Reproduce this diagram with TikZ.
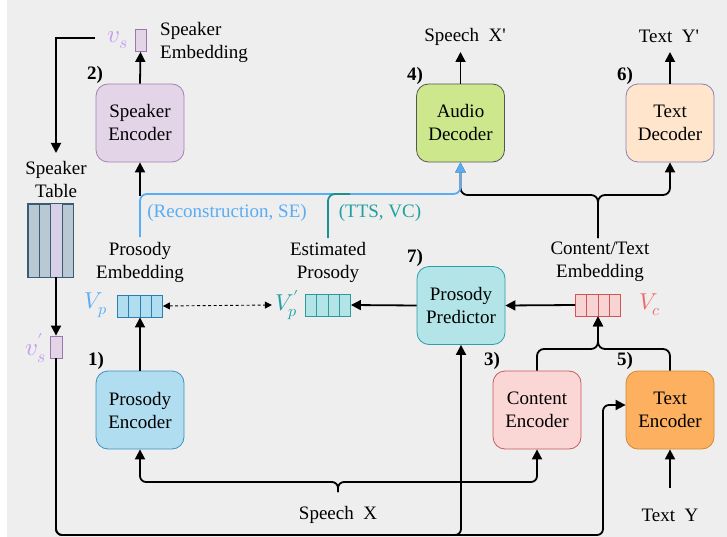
\documentclass[tikz,border=0pt]{standalone}
\usepackage{fontspec}
\usepackage{unicode-math}
\setmainfont{Liberation Serif}
\setmathfont{Latin Modern Math}
\usetikzlibrary{arrows.meta,calc}
\definecolor{bg}{HTML}{EEEEEE}
\definecolor{spkfill}{HTML}{E4D4E8}\definecolor{spkdraw}{HTML}{A67FB5}
\definecolor{prosfill}{HTML}{B0DDF0}\definecolor{prosdraw}{HTML}{3E90C2}
\definecolor{audfill}{HTML}{CDE88C}\definecolor{auddraw}{HTML}{555555}
\definecolor{tdfill}{HTML}{FFE5CC}\definecolor{tddraw}{HTML}{8A80B0}
\definecolor{predfill}{HTML}{B2E4E8}\definecolor{preddraw}{HTML}{2F9EA8}
\definecolor{cefill}{HTML}{FAD7D5}\definecolor{cedraw}{HTML}{C85A5A}
\definecolor{tefill}{HTML}{FDB05F}\definecolor{tedraw}{HTML}{D08A30}
\definecolor{vpdraw}{HTML}{2A7FB0}
\definecolor{vppdraw}{HTML}{2A9A9A}
\definecolor{vcfill}{HTML}{F8D3D3}\definecolor{vcdraw}{HTML}{D05555}
\definecolor{tblgray}{HTML}{B9C9D3}\definecolor{tbllav}{HTML}{D8D0E6}\definecolor{tbldraw}{HTML}{3B5B73}
\definecolor{vsdraw}{HTML}{9A78AA}\definecolor{vscol}{HTML}{C49CF0}
\definecolor{blueline}{HTML}{5AACF5}
\definecolor{tealline}{HTML}{1A9090}\definecolor{tealtext}{HTML}{20A0A0}
\definecolor{vccol}{HTML}{F06A6A}
\begin{document}
\begin{tikzpicture}[x=1pt,y=-1pt,
  box/.style={draw, line width=0.8pt, rounded corners=12pt, minimum width=88pt, minimum height=78pt, align=center, inner sep=2pt, font=\fontsize{19}{23}\selectfont},
  arr/.style={line width=1.8pt, -{Triangle[length=10pt,width=10pt]}},
  lbl/.style={align=center, inner sep=1pt, font=\fontsize{19}{23}\selectfont},
  num/.style={inner sep=0pt, font=\fontsize{19}{19}\selectfont\bfseries},
  vec/.style={draw, line width=0.9pt, minimum width=45pt, minimum height=22pt, inner sep=0pt},
  mlbl/.style={inner sep=0pt, font=\fontsize{23}{23}\selectfont},
  slbl/.style={inner sep=0pt, font=\fontsize{25}{25}\selectfont, text=vscol},
  sbox/.style={draw=vsdraw, fill=spkfill, line width=0.8pt, minimum width=11pt, minimum height=22pt, inner sep=0pt},
]
\fill[white] (0,0) rectangle (727,537);
\fill[bg] (7,0) rectangle (727,537);
\useasboundingbox (0,0) rectangle (727,537);

% boxes
\node[box, fill=spkfill, draw=spkdraw] (spkenc) at (140,123) {Speaker\\Encoder};
\node[box, fill=prosfill, draw=prosdraw] (prosenc) at (140,410) {Prosody\\Encoder};
\node[box, fill=audfill, draw=auddraw] (auddec) at (460.5,123) {Audio\\Decoder};
\node[box, fill=tdfill, draw=tddraw] (txtdec) at (670,123) {Text\\Decoder};
\node[box, fill=predfill, draw=preddraw] (pred) at (461,305.5) {Prosody\\Predictor};
\node[box, fill=cefill, draw=cedraw] (contenc) at (537,410) {Content\\Encoder};
\node[box, fill=tefill, draw=tedraw] (txtenc) at (670,410) {Text\\Encoder};

% numbers
\node[num] (n2) at (95,75) {2)};
\node[num] (n4) at (415,76) {4)};
\node[num] (n6) at (625,76) {6)};
\node[num] (n7) at (415,258) {7)};
\node[num] (n1) at (96,361) {1)};
\node[num] (n3) at (492,361) {3)};
\node[num] (n5) at (625,361) {5)};

% speaker embedding
\node[sbox] (vs) at (140.5,40.5) {};
\node[slbl] (vslbl) at (118,40) {$v_s$};
\node[lbl, align=left, anchor=west] (spkemb) at (159,42) {Speaker\\Embedding};

% speaker table
\node[lbl] (spktbl) at (56,180) {Speaker\\Table};
\node[draw=tbldraw, fill=tblgray, line width=0.9pt, minimum width=45pt, minimum height=73pt, inner sep=0pt] (tbl) at (50.5,240.5) {};
\fill[tbllav] ($(tbl.north west)!0.5!(tbl.north east)$) rectangle ($(tbl.south west)!0.75!(tbl.south east)$);
\draw[tbldraw, line width=0.9pt] (tbl.north west) rectangle (tbl.south east);
\foreach \f in {0.25,0.5,0.75}
  \draw[tbldraw, line width=0.9pt] ($(tbl.north west)!\f!(tbl.north east)$) -- ($(tbl.south west)!\f!(tbl.south east)$);
\node[sbox, minimum width=12pt] (vsp) at (56,347) {};
\node[slbl] (vsplbl) at (36,348) {$v_s^{\prime}$};

% embeddings
\node[lbl] (pemb) at (140,262) {Prosody\\Embedding};
\node[lbl] (epemb) at (328,262) {Estimated\\Prosody};
\node[lbl] (cemb) at (600,262) {Content/Text\\Embedding};

\node[vec, fill=prosfill, draw=vpdraw] (vp) at (140,306) {};
\node[vec, fill=predfill, draw=vppdraw] (vpp) at (328,305) {};
\node[vec, fill=vcfill, draw=vcdraw] (vc) at (598,305) {};
\foreach \v/\c in {vp/vpdraw, vpp/vppdraw, vc/vcdraw}
  \foreach \f in {0.25,0.5,0.75}
    \draw[\c, line width=0.9pt] ($(\v.north west)!\f!(\v.north east)$) -- ($(\v.south west)!\f!(\v.south east)$);
\node[mlbl, text=blueline] (vplbl) at (96,305) {$V_p$};
\node[mlbl, text=tealtext] (vpplbl) at (287,305) {$V_p^{\prime}$};
\node[mlbl, text=vccol] (vclbl) at (650,305) {$V_c$};

% outputs / inputs text
\node[lbl] (sxp) at (465,37) {Speech~~X\textquotesingle};
\node[lbl] (typ) at (669,36) {Text~~Y\textquotesingle};
\node[lbl] (speechx) at (338,515) {Speech~~X};
\node[lbl] (texty) at (670,515) {Text~~Y};

\node[lbl, text=blueline] (reclbl) at (227,213) {(Reconstruction, SE)};
\node[lbl, text=tealtext] (ttslbl) at (380,213) {(TTS, VC)};

% coordinates
\coordinate (vsstart) at (95,38);
\coordinate (tblin) at (56,153);
\coordinate (pj) at (140,196);
\coordinate (pembtop) at (140,237);
\coordinate (epembtop) at (328,238);
\coordinate (cembtop) at (598,238);
\coordinate (sxtop) at (338,492);

% connectors
\draw[arr] (spkenc.north) -- (vs.south);
\draw[arr] (vsstart) -| (tblin);
\draw[arr] (vsp.north |- tbl.south) -- (vsp.north);
\draw[arr, rounded corners=6pt] (vsp.south) |- (pred.south |- 0,535) -- (pred.south);
\draw[arr, rounded corners=6pt] (vsp.south) |- (603,535) |- ([yshift=5pt]txtenc.west);

\draw[arr] (prosenc.north) -- (vp.south);
\draw[arr] (pj) -- (spkenc.south);
\draw[arr, rounded corners=7pt] (cembtop) |- (auddec.south |- 0,195) -- (auddec.south);
\draw[arr, rounded corners=7pt] (cembtop) |- (txtdec.south |- 0,195) -- (txtdec.south);
\draw[line width=1.8pt, blueline, -{Triangle[length=10pt,width=10pt]}, rounded corners=7pt] (pembtop) |- (auddec.south |- 0,194) -- (auddec.south);
\draw[line width=1.8pt, tealline, rounded corners=7pt] (epembtop) |- (350,194);

\draw[arr] (vc.west) -- (pred.east);
\draw[arr] (pred.west) -- (vpp.east);
\draw[line width=0.9pt, dashed, dash pattern=on 3pt off 2.5pt, {Triangle[length=7pt,width=7pt]}-{Triangle[length=7pt,width=7pt]}] (vp.east) -- ([xshift=-3pt]vpplbl.west);

\draw[arr, rounded corners=7pt] (contenc.north) |- (vc.south |- 0,349) -- (vc.south);
\draw[arr, rounded corners=7pt] (txtenc.north) |- (vc.south |- 0,349) -- (vc.south);

\draw[arr, rounded corners=6pt] (sxtop) |- (prosenc.south |- 0,482) -- (prosenc.south);
\draw[arr, rounded corners=6pt] (sxtop) |- (contenc.south |- 0,482) -- (contenc.south);
\draw[arr] (texty.north |- 0,488) -- (txtenc.south);

\draw[arr] (auddec.north) -- (auddec.north |- 0,52);
\draw[arr] (txtdec.north) -- (txtdec.north |- 0,52);
\end{tikzpicture}
\end{document}
